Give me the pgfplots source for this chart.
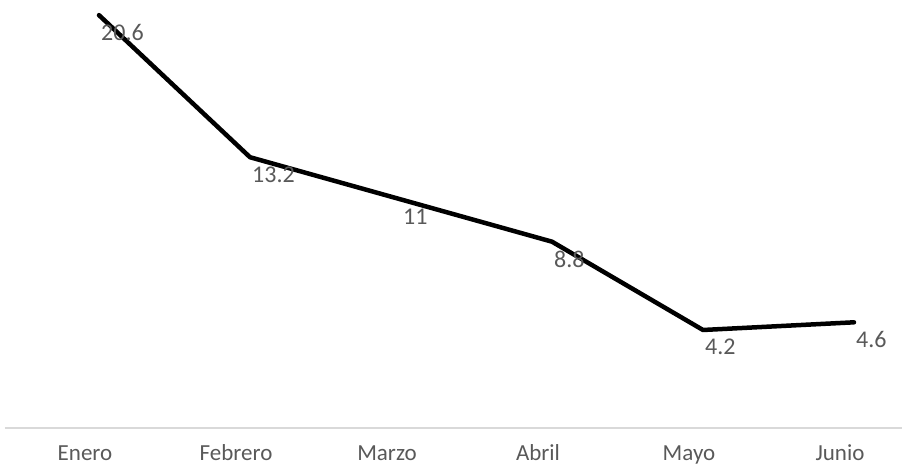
\documentclass[border=0pt]{standalone}
\usepackage{fontspec}
\setmainfont{Carlito}
\usepackage{pgfplots}
\usepackage{pgfplotstable}
\pgfplotsset{compat=1.18}
\definecolor{lbl}{HTML}{595959}
\definecolor{axln}{HTML}{D9D9D9}

% monthly values (label column holds the printed value)
\pgfplotstableread{
x  y     lab
0  20.6  20.6
1  13.2  13.2
2  11    11
3  8.8   8.8
4  4.2   4.2
5  4.6   4.6
}\monthdata

\begin{document}
\begin{tikzpicture}
\useasboundingbox (0,0) rectangle (902pt,467pt);
\begin{axis}[
  at={(5pt,39pt)}, anchor=south west,
  scale only axis, width=897pt, height=428pt,
  xmin=-0.6225, xmax=5.318,
  ymin=-0.906, ymax=21.39,
  axis x line*=bottom, axis y line=none,
  x axis line style={draw=axln, line width=2pt, -},
  xtick={0,1,2,3,4,5},
  xticklabels={Enero,Febrero,Marzo,Abril,Mayo,Junio},
  major tick length=0pt,
  ytick=\empty,
  xticklabel style={anchor=base, yshift=-32pt, xshift=-14pt,
    text=lbl, font=\fontsize{23}{27}\selectfont},
  clip=false,
]
\addplot[black, line width=4.5pt, line join=round, line cap=round,
  point meta=explicit symbolic,
  nodes near coords,
  every node near coord/.append style={anchor=north west, inner sep=0pt,
    yshift=-7pt, text=lbl, font=\fontsize{24}{28}\selectfont}]
  table[x=x, y=y, meta=lab] {\monthdata};
\end{axis}
\end{tikzpicture}
\end{document}
